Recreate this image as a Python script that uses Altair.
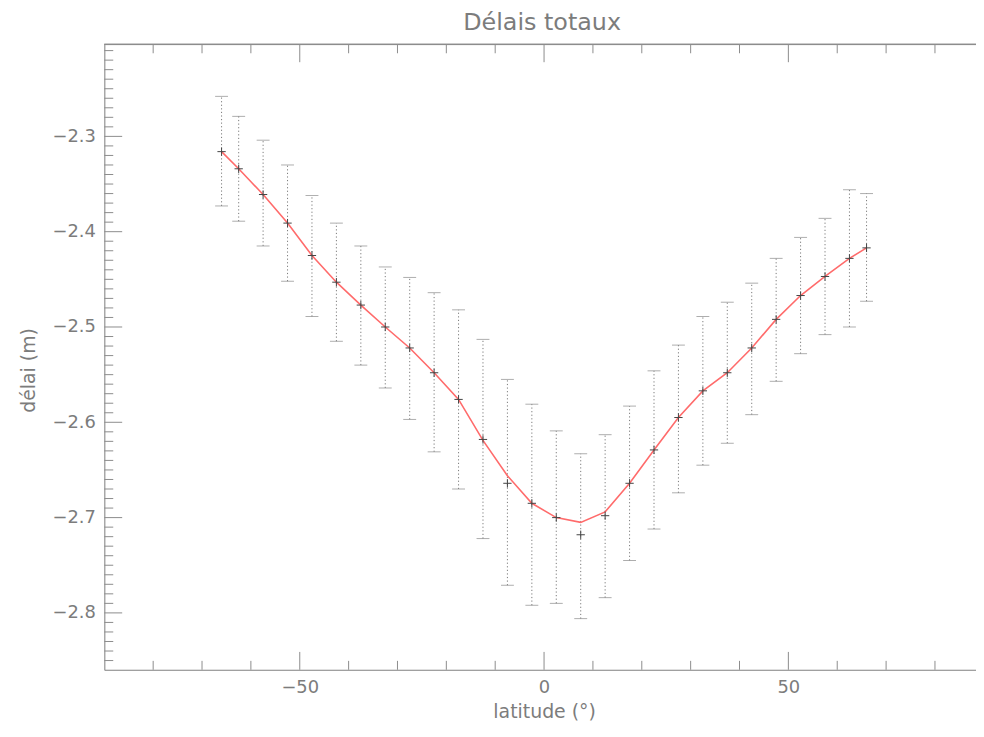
import altair as alt
import pandas as pd

# ---- data ----
lat = [-66, -62.5, -57.5, -52.5, -47.5, -42.5, -37.5, -32.5, -27.5, -22.5,
       -17.5, -12.5, -7.5, -2.5, 2.5, 7.5, 12.5, 17.5, 22.5, 27.5,
       32.5, 37.5, 42.5, 47.5, 52.5, 57.5, 62.5, 66]
delay = [-2.316, -2.334, -2.361, -2.391, -2.425, -2.453, -2.477, -2.500, -2.522, -2.548,
         -2.576, -2.618, -2.664, -2.685, -2.700, -2.718, -2.698, -2.664, -2.629, -2.595,
         -2.567, -2.548, -2.522, -2.492, -2.467, -2.447, -2.428, -2.417]
upper = [-2.258, -2.279, -2.304, -2.330, -2.362, -2.391, -2.415, -2.437, -2.448, -2.464,
         -2.482, -2.513, -2.555, -2.581, -2.609, -2.633, -2.613, -2.583, -2.546, -2.519,
         -2.489, -2.474, -2.454, -2.428, -2.406, -2.386, -2.356, -2.360]
lower = [-2.373, -2.389, -2.415, -2.452, -2.489, -2.515, -2.540, -2.564, -2.597, -2.631,
         -2.670, -2.722, -2.771, -2.792, -2.790, -2.806, -2.784, -2.745, -2.712, -2.674,
         -2.645, -2.622, -2.592, -2.557, -2.528, -2.508, -2.500, -2.473]
smooth = [-2.316, -2.334, -2.361, -2.391, -2.425, -2.453, -2.477, -2.500, -2.522, -2.548,
          -2.576, -2.619, -2.656, -2.685, -2.700, -2.705, -2.694, -2.664, -2.629, -2.595,
          -2.567, -2.548, -2.522, -2.492, -2.467, -2.447, -2.428, -2.417]

x_major = [-50, 0, 50]
x_minor = [-80, -70, -60, -40, -30, -20, -10, 10, 20, 30, 40, 60, 70, 80]
y_major = [-2.8, -2.7, -2.6, -2.5, -2.4, -2.3]
y_minor = [round(-2.85 + i * 0.01, 2) for i in range(0, 65)]
y_minor = [v for v in y_minor if v not in y_major]

X_DOMAIN = [-90, 88.4]
Y_DOMAIN = [-2.8597, -2.2034]
W, H = 878, 630

FONT = "DejaVu Sans"
TXT = "#7c7c7c"
AX = "#8c8c8c"

df = pd.DataFrame({"lat": lat, "delay": delay, "upper": upper,
                   "lower": lower, "smooth": smooth})

xs = alt.Scale(domain=X_DOMAIN, nice=False, zero=False)
ys = alt.Scale(domain=Y_DOMAIN, nice=False, zero=False)

x_axis = alt.Axis(values=x_major, ticks=False, grid=False, domainColor=AX,
                  labelFontSize=18, labelPadding=9, labelColor=TXT, labelFont=FONT,
                  title="latitude (°)", titleFontSize=19, titleFontWeight="normal",
                  titleColor=TXT, titleFont=FONT, titlePadding=6,
                  titleX=443)
y_axis = alt.Axis(values=y_major, format=".1f", ticks=False, grid=False, domainColor=AX,
                  labelFontSize=18, labelPadding=9, labelColor=TXT, labelFont=FONT,
                  title="délai (m)", titleFontSize=19, titleFontWeight="normal",
                  titleColor=TXT, titleFont=FONT, titlePadding=14, titleY=328)

base = alt.Chart(df)

bars = base.mark_rule(color="#7a7a7a", strokeWidth=1, strokeDash=[1.2, 2.4]).encode(
    x=alt.X("lat:Q", scale=xs, axis=x_axis),
    y=alt.Y("lower:Q", scale=ys, axis=y_axis),
    y2="upper:Q",
)
cap_top = base.mark_tick(orient="horizontal", size=13, thickness=1, color="#8a8a8a").encode(
    x=alt.X("lat:Q", scale=xs), y=alt.Y("upper:Q", scale=ys))
cap_bot = base.mark_tick(orient="horizontal", size=13, thickness=1, color="#8a8a8a").encode(
    x=alt.X("lat:Q", scale=xs), y=alt.Y("lower:Q", scale=ys))

line = base.mark_line(color="#ff6b6b", strokeWidth=1.6).encode(
    x=alt.X("lat:Q", scale=xs), y=alt.Y("smooth:Q", scale=ys))

pts = base.mark_point(shape="M-1,0L1,0M0,-1L0,1", size=70, filled=False,
                      color="#444444", strokeWidth=1, opacity=1).encode(
    x=alt.X("lat:Q", scale=xs), y=alt.Y("delay:Q", scale=ys))

# axis tick marks drawn inward (IDL style)
xmaj = pd.DataFrame({"v": x_major})
xmin = pd.DataFrame({"v": x_minor})
ymaj = pd.DataFrame({"v": y_major})
ymin = pd.DataFrame({"v": y_minor})

def xticks(d, length):
    b = alt.Chart(d).mark_rule(color=AX, strokeWidth=1).encode(
        x=alt.X("v:Q", scale=xs), y=alt.value(H), y2=alt.value(H - length))
    t = alt.Chart(d).mark_rule(color=AX, strokeWidth=1).encode(
        x=alt.X("v:Q", scale=xs), y=alt.value(0), y2=alt.value(length))
    return b + t

def yticks(d, length):
    return alt.Chart(d).mark_rule(color=AX, strokeWidth=1).encode(
        y=alt.Y("v:Q", scale=ys), x=alt.value(0), x2=alt.value(length))

top_border = alt.Chart(xmaj).mark_rule(color=AX, strokeWidth=1).encode(
    x=alt.value(0), x2=alt.value(W), y=alt.value(0))

chart = alt.layer(
    bars, cap_top, cap_bot,
    xticks(xmaj, 18), xticks(xmin, 9), yticks(ymaj, 18), yticks(ymin, 9),
    top_border, line, pts,
).properties(
    width=W, height=H,
    title=alt.TitleParams("Délais totaux", fontSize=24, fontWeight="normal",
                          color=TXT, font=FONT, offset=9, anchor="middle", dx=2),
    autosize=alt.AutoSizeParams(type="none"),
    padding={"left": 97, "top": 34, "right": 0, "bottom": 50},
).configure_view(stroke=None).configure(background="white")

chart.save("out.html", embed_options={"renderer": "svg", "actions": False})
